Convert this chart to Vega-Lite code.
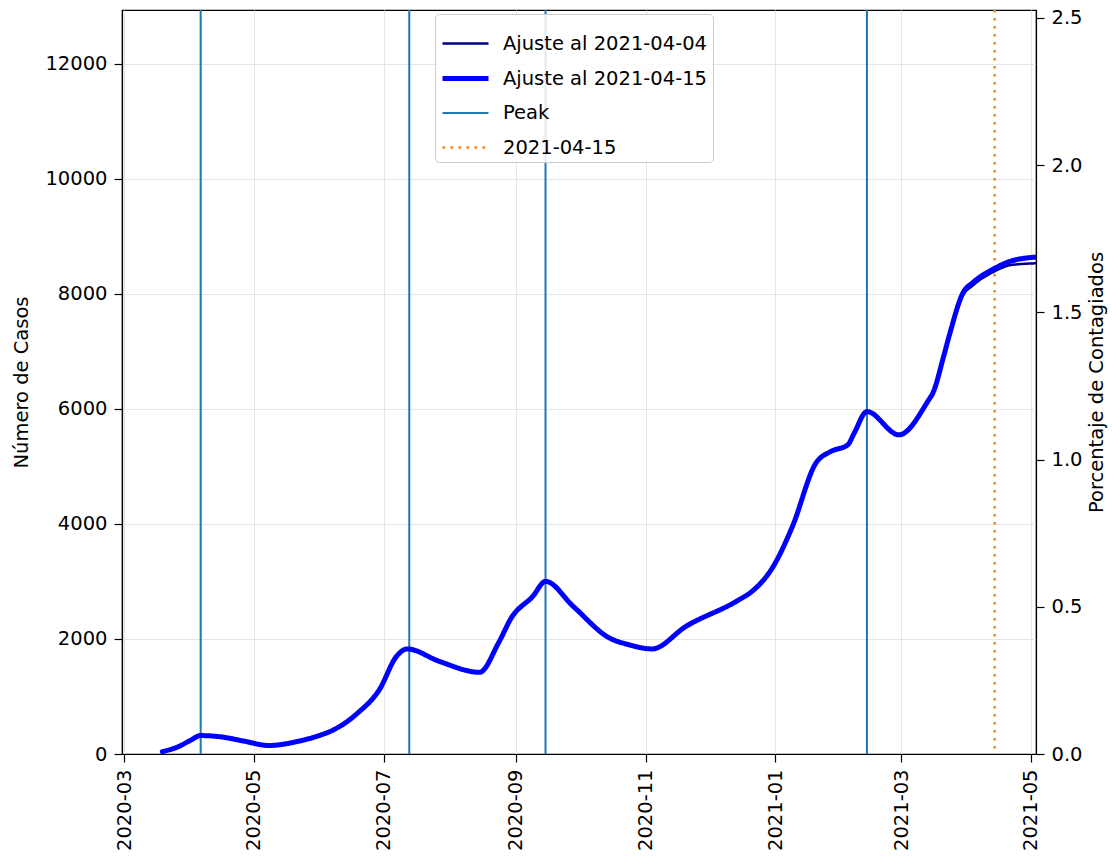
{
  "$schema": "https://vega.github.io/schema/vega-lite/v6.json",
  "width": 914,
  "height": 744,
  "autosize": {"type": "none"},
  "padding": {"left": 122, "top": 10, "right": 76, "bottom": 104},
  "background": "white",
  "config": {
    "font": "DejaVu Sans",
    "view": {"stroke": "black", "strokeWidth": 1.2},
    "axis": {
      "labelFont": "DejaVu Sans",
      "labelFontSize": 19.5,
      "labelColor": "#000000",
      "titleFont": "DejaVu Sans",
      "titleFontSize": 19.5,
      "titleFontWeight": "normal",
      "titleColor": "#000000",
      "domainColor": "#000000",
      "domainWidth": 1.2,
      "tickColor": "#000000",
      "tickWidth": 1.2,
      "tickSize": 8,
      "labelPadding": 7,
      "gridColor": "#e6e6e6",
      "gridWidth": 1
    },
    "legend": {
      "labelFont": "DejaVu Sans",
      "labelFontSize": 19.5,
      "labelColor": "#000000",
      "labelLimit": 0,
      "symbolType": "stroke",
      "symbolSize": 2116,
      "labelOffset": 12,
      "rowPadding": -10,
      "padding": 5,
      "strokeColor": "#cccccc",
      "fillColor": "rgba(255,255,255,0.85)",
      "cornerRadius": 4
    }
  },
  "datasets": {
    "curvas": [
      {"fecha": "2020-03-19", "casos": 40, "serie": "Ajuste al 2021-04-04"},
      {"fecha": "2020-03-27", "casos": 135, "serie": "Ajuste al 2021-04-04"},
      {"fecha": "2020-04-01", "casos": 234, "serie": "Ajuste al 2021-04-04"},
      {"fecha": "2020-04-06", "casos": 320, "serie": "Ajuste al 2021-04-04"},
      {"fecha": "2020-04-15", "casos": 300, "serie": "Ajuste al 2021-04-04"},
      {"fecha": "2020-04-26", "casos": 226, "serie": "Ajuste al 2021-04-04"},
      {"fecha": "2020-05-08", "casos": 148, "serie": "Ajuste al 2021-04-04"},
      {"fecha": "2020-05-22", "casos": 222, "serie": "Ajuste al 2021-04-04"},
      {"fecha": "2020-06-01", "casos": 325, "serie": "Ajuste al 2021-04-04"},
      {"fecha": "2020-06-08", "casos": 430, "serie": "Ajuste al 2021-04-04"},
      {"fecha": "2020-06-19", "casos": 720, "serie": "Ajuste al 2021-04-04"},
      {"fecha": "2020-06-29", "casos": 1120, "serie": "Ajuste al 2021-04-04"},
      {"fecha": "2020-07-07", "casos": 1698, "serie": "Ajuste al 2021-04-04"},
      {"fecha": "2020-07-12", "casos": 1826, "serie": "Ajuste al 2021-04-04"},
      {"fecha": "2020-07-27", "casos": 1611, "serie": "Ajuste al 2021-04-04"},
      {"fecha": "2020-08-15", "casos": 1420, "serie": "Ajuste al 2021-04-04"},
      {"fecha": "2020-08-24", "casos": 1936, "serie": "Ajuste al 2021-04-04"},
      {"fecha": "2020-08-30", "casos": 2370, "serie": "Ajuste al 2021-04-04"},
      {"fecha": "2020-09-09", "casos": 2739, "serie": "Ajuste al 2021-04-04"},
      {"fecha": "2020-09-15", "casos": 3000, "serie": "Ajuste al 2021-04-04"},
      {"fecha": "2020-09-28", "casos": 2566, "serie": "Ajuste al 2021-04-04"},
      {"fecha": "2020-10-15", "casos": 2017, "serie": "Ajuste al 2021-04-04"},
      {"fecha": "2020-10-24", "casos": 1900, "serie": "Ajuste al 2021-04-04"},
      {"fecha": "2020-11-04", "casos": 1826, "serie": "Ajuste al 2021-04-04"},
      {"fecha": "2020-11-20", "casos": 2219, "serie": "Ajuste al 2021-04-04"},
      {"fecha": "2020-12-15", "casos": 2682, "serie": "Ajuste al 2021-04-04"},
      {"fecha": "2020-12-21", "casos": 2826, "serie": "Ajuste al 2021-04-04"},
      {"fecha": "2020-12-31", "casos": 3260, "serie": "Ajuste al 2021-04-04"},
      {"fecha": "2021-01-09", "casos": 3955, "serie": "Ajuste al 2021-04-04"},
      {"fecha": "2021-01-20", "casos": 5055, "serie": "Ajuste al 2021-04-04"},
      {"fecha": "2021-01-27", "casos": 5257, "serie": "Ajuste al 2021-04-04"},
      {"fecha": "2021-02-04", "casos": 5373, "serie": "Ajuste al 2021-04-04"},
      {"fecha": "2021-02-07", "casos": 5576, "serie": "Ajuste al 2021-04-04"},
      {"fecha": "2021-02-13", "casos": 5951, "serie": "Ajuste al 2021-04-04"},
      {"fecha": "2021-02-28", "casos": 5547, "serie": "Ajuste al 2021-04-04"},
      {"fecha": "2021-03-14", "casos": 6154, "serie": "Ajuste al 2021-04-04"},
      {"fecha": "2021-03-16", "casos": 6276, "serie": "Ajuste al 2021-04-04"},
      {"fecha": "2021-03-21", "casos": 6880, "serie": "Ajuste al 2021-04-04"},
      {"fecha": "2021-03-24", "casos": 7290, "serie": "Ajuste al 2021-04-04"},
      {"fecha": "2021-03-30", "casos": 7960, "serie": "Ajuste al 2021-04-04"},
      {"fecha": "2021-04-04", "casos": 8150, "serie": "Ajuste al 2021-04-04"},
      {"fecha": "2021-04-13", "casos": 8370, "serie": "Ajuste al 2021-04-04"},
      {"fecha": "2021-04-22", "casos": 8500, "serie": "Ajuste al 2021-04-04"},
      {"fecha": "2021-05-05", "casos": 8530, "serie": "Ajuste al 2021-04-04"},
      {"fecha": "2020-03-19", "casos": 40, "serie": "Ajuste al 2021-04-15"},
      {"fecha": "2020-03-27", "casos": 135, "serie": "Ajuste al 2021-04-15"},
      {"fecha": "2020-04-01", "casos": 234, "serie": "Ajuste al 2021-04-15"},
      {"fecha": "2020-04-06", "casos": 320, "serie": "Ajuste al 2021-04-15"},
      {"fecha": "2020-04-15", "casos": 300, "serie": "Ajuste al 2021-04-15"},
      {"fecha": "2020-04-26", "casos": 226, "serie": "Ajuste al 2021-04-15"},
      {"fecha": "2020-05-08", "casos": 148, "serie": "Ajuste al 2021-04-15"},
      {"fecha": "2020-05-22", "casos": 222, "serie": "Ajuste al 2021-04-15"},
      {"fecha": "2020-06-01", "casos": 325, "serie": "Ajuste al 2021-04-15"},
      {"fecha": "2020-06-08", "casos": 430, "serie": "Ajuste al 2021-04-15"},
      {"fecha": "2020-06-19", "casos": 720, "serie": "Ajuste al 2021-04-15"},
      {"fecha": "2020-06-29", "casos": 1120, "serie": "Ajuste al 2021-04-15"},
      {"fecha": "2020-07-07", "casos": 1698, "serie": "Ajuste al 2021-04-15"},
      {"fecha": "2020-07-12", "casos": 1826, "serie": "Ajuste al 2021-04-15"},
      {"fecha": "2020-07-27", "casos": 1611, "serie": "Ajuste al 2021-04-15"},
      {"fecha": "2020-08-15", "casos": 1420, "serie": "Ajuste al 2021-04-15"},
      {"fecha": "2020-08-24", "casos": 1936, "serie": "Ajuste al 2021-04-15"},
      {"fecha": "2020-08-30", "casos": 2370, "serie": "Ajuste al 2021-04-15"},
      {"fecha": "2020-09-09", "casos": 2739, "serie": "Ajuste al 2021-04-15"},
      {"fecha": "2020-09-15", "casos": 3000, "serie": "Ajuste al 2021-04-15"},
      {"fecha": "2020-09-28", "casos": 2566, "serie": "Ajuste al 2021-04-15"},
      {"fecha": "2020-10-15", "casos": 2017, "serie": "Ajuste al 2021-04-15"},
      {"fecha": "2020-10-24", "casos": 1900, "serie": "Ajuste al 2021-04-15"},
      {"fecha": "2020-11-04", "casos": 1826, "serie": "Ajuste al 2021-04-15"},
      {"fecha": "2020-11-20", "casos": 2219, "serie": "Ajuste al 2021-04-15"},
      {"fecha": "2020-12-15", "casos": 2682, "serie": "Ajuste al 2021-04-15"},
      {"fecha": "2020-12-21", "casos": 2826, "serie": "Ajuste al 2021-04-15"},
      {"fecha": "2020-12-31", "casos": 3260, "serie": "Ajuste al 2021-04-15"},
      {"fecha": "2021-01-09", "casos": 3955, "serie": "Ajuste al 2021-04-15"},
      {"fecha": "2021-01-20", "casos": 5055, "serie": "Ajuste al 2021-04-15"},
      {"fecha": "2021-01-27", "casos": 5257, "serie": "Ajuste al 2021-04-15"},
      {"fecha": "2021-02-04", "casos": 5373, "serie": "Ajuste al 2021-04-15"},
      {"fecha": "2021-02-07", "casos": 5576, "serie": "Ajuste al 2021-04-15"},
      {"fecha": "2021-02-13", "casos": 5951, "serie": "Ajuste al 2021-04-15"},
      {"fecha": "2021-02-28", "casos": 5547, "serie": "Ajuste al 2021-04-15"},
      {"fecha": "2021-03-14", "casos": 6154, "serie": "Ajuste al 2021-04-15"},
      {"fecha": "2021-03-16", "casos": 6276, "serie": "Ajuste al 2021-04-15"},
      {"fecha": "2021-03-21", "casos": 6906, "serie": "Ajuste al 2021-04-15"},
      {"fecha": "2021-03-24", "casos": 7317, "serie": "Ajuste al 2021-04-15"},
      {"fecha": "2021-03-30", "casos": 8006, "serie": "Ajuste al 2021-04-15"},
      {"fecha": "2021-04-04", "casos": 8200, "serie": "Ajuste al 2021-04-15"},
      {"fecha": "2021-04-13", "casos": 8420, "serie": "Ajuste al 2021-04-15"},
      {"fecha": "2021-04-22", "casos": 8570, "serie": "Ajuste al 2021-04-15"},
      {"fecha": "2021-05-05", "casos": 8640, "serie": "Ajuste al 2021-04-15"}
    ],
    "lineas": [
      {"fecha": "2020-04-06", "serie": "Peak"},
      {"fecha": "2020-07-13", "serie": "Peak"},
      {"fecha": "2020-09-15", "serie": "Peak"},
      {"fecha": "2021-02-13", "serie": "Peak"},
      {"fecha": "2021-04-14", "serie": "2021-04-15"}
    ],
    "porcentaje": [
      {"pct": 0},
      {"pct": 2.5}
    ]
  },
  "resolve": {"scale": {"y": "independent"}, "axis": {"y": "independent"}},
  "layer": [
    {
      "data": {"name": "lineas"},
      "mark": {"type": "rule", "clip": true},
      "encoding": {
        "x": {"field": "fecha", "type": "temporal"},
        "color": {
          "field": "serie",
          "type": "nominal",
          "scale": {
            "domain": ["Ajuste al 2021-04-04", "Ajuste al 2021-04-15", "Peak", "2021-04-15"],
            "range": ["#00008b", "#0000ff", "#1f77b4", "#ff7f0e"]
          },
          "legend": {"title": null, "orient": "none", "legendX": 313, "legendY": 4}
        },
        "strokeWidth": {
          "field": "serie",
          "type": "nominal",
          "scale": {
            "type": "ordinal",
            "domain": ["Ajuste al 2021-04-04", "Ajuste al 2021-04-15", "Peak", "2021-04-15"],
            "range": [2.5, 5, 2, 2.5]
          },
          "legend": {"title": null, "orient": "none", "legendX": 313, "legendY": 4}
        },
        "strokeDash": {
          "field": "serie",
          "type": "nominal",
          "scale": {
            "domain": ["Ajuste al 2021-04-04", "Ajuste al 2021-04-15", "Peak", "2021-04-15"],
            "range": [[1, 0], [1, 0], [1, 0], [2.5, 5.5]]
          },
          "legend": {"title": null, "orient": "none", "legendX": 313, "legendY": 4}
        }
      }
    },
    {
      "data": {"name": "curvas"},
      "mark": {"type": "line", "interpolate": "monotone", "clip": true, "strokeCap": "round", "strokeJoin": "round"},
      "encoding": {
        "x": {
          "field": "fecha",
          "type": "temporal",
          "title": null,
          "scale": {
            "type": "utc",
            "domain": [
              {"year": 2020, "month": 2, "date": 29, "hours": 1, "utc": true},
              {"year": 2021, "month": 5, "date": 3, "hours": 10, "utc": true}
            ]
          },
          "axis": {
            "values": [
              {"year": 2020, "month": 3, "date": 1, "utc": true},
              {"year": 2020, "month": 5, "date": 1, "utc": true},
              {"year": 2020, "month": 7, "date": 1, "utc": true},
              {"year": 2020, "month": 9, "date": 1, "utc": true},
              {"year": 2020, "month": 11, "date": 1, "utc": true},
              {"year": 2021, "month": 1, "date": 1, "utc": true},
              {"year": 2021, "month": 3, "date": 1, "utc": true},
              {"year": 2021, "month": 5, "date": 1, "utc": true}
            ],
            "format": "%Y-%m",
            "labelAngle": 270,
            "grid": true,
            "labelFlush": false,
            "labelOverlap": false
          }
        },
        "y": {
          "field": "casos",
          "type": "quantitative",
          "title": "Número de Casos",
          "scale": {"domain": [0, 12930], "nice": false, "zero": true},
          "axis": {
            "orient": "left",
            "values": [0, 2000, 4000, 6000, 8000, 10000, 12000],
            "format": "d",
            "grid": true,
            "titlePadding": 13,
            "labelFlush": false
          }
        },
        "color": {
          "field": "serie",
          "type": "nominal",
          "scale": {
            "domain": ["Ajuste al 2021-04-04", "Ajuste al 2021-04-15", "Peak", "2021-04-15"],
            "range": ["#00008b", "#0000ff", "#1f77b4", "#ff7f0e"]
          },
          "legend": {"title": null, "orient": "none", "legendX": 313, "legendY": 4}
        },
        "strokeWidth": {
          "field": "serie",
          "type": "nominal",
          "scale": {
            "type": "ordinal",
            "domain": ["Ajuste al 2021-04-04", "Ajuste al 2021-04-15", "Peak", "2021-04-15"],
            "range": [2.5, 5, 2, 2.5]
          },
          "legend": {"title": null, "orient": "none", "legendX": 313, "legendY": 4}
        },
        "strokeDash": {
          "field": "serie",
          "type": "nominal",
          "scale": {
            "domain": ["Ajuste al 2021-04-04", "Ajuste al 2021-04-15", "Peak", "2021-04-15"],
            "range": [[1, 0], [1, 0], [1, 0], [2.5, 5.5]]
          },
          "legend": {"title": null, "orient": "none", "legendX": 313, "legendY": 4}
        }
      }
    },
    {
      "data": {"name": "porcentaje"},
      "mark": {"type": "point", "opacity": 0},
      "encoding": {
        "y": {
          "field": "pct",
          "type": "quantitative",
          "title": "Porcentaje de Contagiados",
          "scale": {"domain": [0, 2.527], "nice": false, "zero": true},
          "axis": {
            "orient": "right",
            "values": [0, 0.5, 1, 1.5, 2, 2.5],
            "format": ".1f",
            "grid": false,
            "titleAngle": 270,
            "titlePadding": 24,
            "labelFlush": false
          }
        }
      }
    }
  ]
}
